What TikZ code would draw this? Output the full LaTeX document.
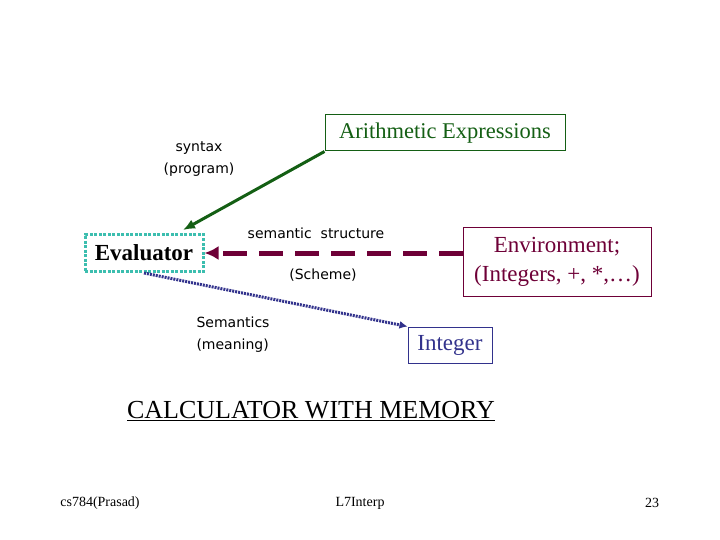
\documentclass[tikz,border=0pt]{standalone}
\usepackage{fontspec}
\setmainfont{Liberation Serif}
\newfontfamily\labelfont{DejaVu Sans}
\usetikzlibrary{arrows.meta}
\definecolor{arithgreen}{RGB}{20,95,20}
\definecolor{envmaroon}{RGB}{110,0,55}
\definecolor{evalteal}{RGB}{60,190,175}
\definecolor{intblue}{RGB}{50,50,140}

\begin{document}
\begin{tikzpicture}[x=1pt,y=-1pt,
    box/.style={draw,inner sep=0pt,line width=1pt},
    lbl/.style={font=\labelfont\fontsize{14}{22}\selectfont,align=center},
    foot/.style={font=\fontsize{14}{16}\selectfont}]
    \useasboundingbox (0,0) rectangle (720,540);
    \node[box,draw=arithgreen,text=arithgreen,minimum width=240pt,minimum height=36pt,
          font=\fontsize{22.5}{26}\selectfont] (arith) at (445,133) {Arithmetic Expressions};
    \node[box,draw=evalteal,line width=3pt,dash pattern=on 3pt off 1.5pt,
          minimum width=118pt,minimum height=37pt,
          font=\bfseries\fontsize{23}{26}\selectfont] (eval) at (144,253) {Evaluator};
    \node[box,draw=envmaroon,text=envmaroon,minimum width=188pt,minimum height=68pt,
          align=center,font=\fontsize{23}{29}\selectfont] (env) at (557,262) {Environment;\\(Integers, +, *,\dots)};
    \node[box,draw=intblue,text=intblue,minimum width=84pt,minimum height=36pt,
          font=\fontsize{23}{26}\selectfont] (int) at (450,345) {Integer};
    \coordinate (evaltip) at (183,230);
    \coordinate (envstart) at (eval.east -| env.west);

    \node[lbl] (syn) at (199,159) {syntax\\(program)};
    \node[lbl] (sem) at (316,233) {semantic\ \ structure};
    \node[lbl] (sch) at (323,275) {(Scheme)};
    \node[lbl,align=left,anchor=west] (mean) at (193,335) {Semantics\\(meaning)};

    \draw (arith.south west) edge[-{Latex[length=12pt,width=10pt]}, arithgreen, line width=3pt] (evaltip);
    \draw (envstart) edge[-{Latex[length=14pt,width=14pt]}, envmaroon, line width=5pt, dash pattern=on 24pt off 12pt] (eval.east);
    \draw (eval.south) edge[-{Latex[length=8pt,width=8pt]}, intblue, line width=3pt, dash pattern=on 2pt off 1pt] (int.north west);

    \node[font=\fontsize{26}{28}\selectfont] (title) at (311,411) {\underline{CALCULATOR WITH MEMORY}};
    \node[foot] (author) at (100,503) {cs784(Prasad)};
    \node[foot] (lect)   at (360,503) {L7Interp};
    \node[foot] (page)   at (652,503) {23};
\end{tikzpicture}
\end{document}
